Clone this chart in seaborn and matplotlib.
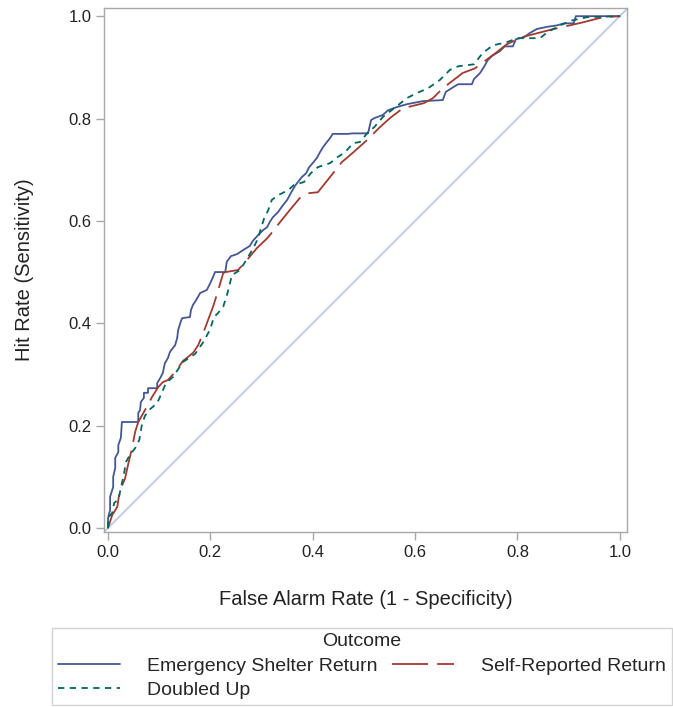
import pandas as pd
import matplotlib
matplotlib.use("Agg")
import matplotlib.pyplot as plt
import seaborn as sns

# ROC curves (false alarm rate, hit rate)
outcomes = ["Emergency Shelter Return", "Self-Reported Return", "Doubled Up"]

shelter_fpr = [0.000, 0.000, 0.004, 0.004, 0.010, 0.010, 0.014, 0.014, 0.020, 0.020,
               0.025, 0.027, 0.059, 0.059, 0.0625, 0.064, 0.070, 0.070, 0.078, 0.078,
               0.096, 0.096, 0.102, 0.107, 0.111, 0.117, 0.121, 0.127, 0.131, 0.135,
               0.137, 0.143, 0.145, 0.160, 0.162, 0.166, 0.172, 0.180, 0.193, 0.199,
               0.205, 0.209, 0.229, 0.232, 0.240, 0.252, 0.264, 0.277, 0.283, 0.293,
               0.303, 0.311, 0.316, 0.322, 0.332, 0.342, 0.350, 0.357, 0.365, 0.371,
               0.379, 0.387, 0.393, 0.400, 0.408, 0.414, 0.420, 0.426, 0.434, 0.439,
               0.469, 0.477, 0.508, 0.514, 0.521, 0.537, 0.547, 0.563, 0.584, 0.615,
               0.654, 0.660, 0.674, 0.684, 0.711, 0.715, 0.727, 0.734, 0.742, 0.750,
               0.766, 0.775, 0.791, 0.797, 0.813, 0.824, 0.838, 0.857, 0.877, 0.891,
               0.910, 0.914, 1.000]
shelter_tpr = [0.000, 0.020, 0.035, 0.061, 0.080, 0.100, 0.117, 0.137, 0.148, 0.162,
               0.176, 0.207, 0.207, 0.225, 0.230, 0.246, 0.254, 0.264, 0.264, 0.273,
               0.273, 0.283, 0.293, 0.303, 0.322, 0.332, 0.344, 0.352, 0.357, 0.371,
               0.387, 0.406, 0.410, 0.412, 0.426, 0.436, 0.445, 0.459, 0.465, 0.477,
               0.490, 0.500, 0.500, 0.520, 0.531, 0.535, 0.543, 0.551, 0.561, 0.572,
               0.582, 0.588, 0.598, 0.607, 0.617, 0.631, 0.641, 0.654, 0.668, 0.676,
               0.686, 0.693, 0.705, 0.713, 0.723, 0.734, 0.744, 0.752, 0.762, 0.770,
               0.770, 0.771, 0.771, 0.797, 0.801, 0.807, 0.816, 0.822, 0.828, 0.834,
               0.836, 0.852, 0.861, 0.867, 0.867, 0.877, 0.889, 0.900, 0.914, 0.922,
               0.932, 0.941, 0.941, 0.955, 0.959, 0.967, 0.975, 0.979, 0.982, 0.986,
               0.986, 1.000, 1.000]

self_fpr = [0.000, 0.008, 0.018, 0.021, 0.027, 0.033, 0.039, 0.045, 0.053, 0.059,
            0.072, 0.086, 0.098, 0.107, 0.117, 0.133, 0.146, 0.166, 0.176, 0.186,
            0.205, 0.213, 0.225, 0.230, 0.254, 0.271, 0.291, 0.311, 0.324, 0.338,
            0.355, 0.375, 0.391, 0.410, 0.434, 0.457, 0.477, 0.504, 0.531, 0.551,
            0.576, 0.617, 0.635, 0.654, 0.693, 0.717, 0.760, 0.779, 0.809, 0.863,
            0.889, 0.928, 0.967, 1.000]
self_tpr = [0.000, 0.025, 0.041, 0.061, 0.082, 0.096, 0.123, 0.148, 0.188, 0.207,
            0.230, 0.256, 0.275, 0.285, 0.289, 0.307, 0.326, 0.342, 0.357, 0.381,
            0.432, 0.457, 0.498, 0.500, 0.504, 0.523, 0.547, 0.566, 0.582, 0.600,
            0.621, 0.645, 0.654, 0.656, 0.686, 0.715, 0.732, 0.756, 0.783, 0.801,
            0.820, 0.830, 0.840, 0.859, 0.889, 0.898, 0.930, 0.945, 0.959, 0.973,
            0.979, 0.988, 0.998, 1.000]

doubled_fpr = [0.000, 0.000, 0.008, 0.012, 0.020, 0.025, 0.031, 0.035, 0.043, 0.053,
               0.061, 0.066, 0.072, 0.082, 0.096, 0.105, 0.113, 0.127, 0.146, 0.170,
               0.186, 0.199, 0.207, 0.215, 0.225, 0.234, 0.242, 0.258, 0.271, 0.285,
               0.293, 0.299, 0.305, 0.313, 0.320, 0.332, 0.352, 0.363, 0.383, 0.396,
               0.410, 0.434, 0.449, 0.463, 0.479, 0.492, 0.508, 0.520, 0.537, 0.564,
               0.584, 0.604, 0.625, 0.648, 0.668, 0.684, 0.715, 0.732, 0.752, 0.779,
               0.799, 0.844, 0.859, 0.883, 0.908, 0.936, 1.000]
doubled_tpr = [0.000, 0.020, 0.029, 0.049, 0.055, 0.078, 0.105, 0.129, 0.143, 0.156,
               0.172, 0.201, 0.219, 0.232, 0.244, 0.264, 0.283, 0.295, 0.324, 0.340,
               0.363, 0.387, 0.412, 0.420, 0.432, 0.461, 0.494, 0.504, 0.525, 0.549,
               0.566, 0.586, 0.605, 0.621, 0.641, 0.650, 0.660, 0.670, 0.676, 0.693,
               0.705, 0.713, 0.725, 0.734, 0.752, 0.754, 0.773, 0.783, 0.803, 0.824,
               0.840, 0.850, 0.859, 0.875, 0.895, 0.902, 0.906, 0.928, 0.943, 0.949,
               0.957, 0.957, 0.969, 0.982, 0.992, 0.998, 1.000]

x_ticks = [0.0, 0.2, 0.4, 0.6, 0.8, 1.0]
y_ticks = [0.0, 0.2, 0.4, 0.6, 0.8, 1.0]

# long-form table for seaborn
frames = []
for name, fpr, tpr in zip(outcomes,
                          [shelter_fpr, self_fpr, doubled_fpr],
                          [shelter_tpr, self_tpr, doubled_tpr]):
    frames.append(pd.DataFrame({"fpr": fpr, "tpr": tpr, "Outcome": name}))
df = pd.concat(frames, ignore_index=True)

sns.set_style("white")
plt.rcParams['font.family'] = ['Liberation Sans', 'DejaVu Sans']

GRID = "#A8A8A8"
palette = {outcomes[0]: "#445694", outcomes[1]: "#A23A2E", outcomes[2]: "#01665E"}
dashes = {outcomes[0]: "", outcomes[1]: (20, 5), outcomes[2]: (3.5, 3)}

fig = plt.figure(figsize=(6.73, 7.07), dpi=100)
ax = fig.add_axes([0.1545, 0.2475, 0.7771, 0.7412])

# chance line
ax.axline((0, 0), slope=1, color="#BCC9E4", lw=1.3, zorder=1)

sns.lineplot(data=df, x="fpr", y="tpr", hue="Outcome", style="Outcome",
             hue_order=outcomes, style_order=outcomes, palette=palette,
             dashes=dashes, sort=False, estimator=None, lw=1.3, ax=ax, zorder=3)

ax.set_xlim(-0.008, 1.014)
ax.set_ylim(-0.008, 1.016)
ax.set_xticks(x_ticks)
ax.set_yticks(y_ticks)
ax.set_xticklabels([f"{v:.1f}" for v in x_ticks])
ax.set_yticklabels([f"{v:.1f}" for v in y_ticks])
ax.tick_params(axis="both", direction="out", length=6, width=1, color=GRID,
               labelsize=12, labelcolor="#222222", pad=3,
               bottom=True, left=True, top=False, right=False)
for sp in ax.spines.values():
    sp.set_color(GRID)
    sp.set_linewidth(1)
ax.set_xlabel("False Alarm Rate (1 - Specificity)", fontsize=14.5, color="#222222", labelpad=22)
ax.set_ylabel("Hit Rate (Sensitivity)", fontsize=14.5, color="#222222", labelpad=25)

# legend below the plot, row-major order
leg = ax.get_legend()
handles = {t.get_text(): h for t, h in zip(leg.get_texts(), leg.legend_handles)}
leg.remove()
order = [outcomes[0], outcomes[2], outcomes[1]]
fig_leg = fig.legend([handles[k] for k in order], order, title="Outcome", ncol=2,
                     loc="lower left", mode="expand",
                     bbox_to_anchor=(52 / 673, 2 / 707, 620 / 673, 77 / 707),
                     fontsize=14, title_fontsize=14, frameon=True, fancybox=False,
                     edgecolor="#C8C8C8", handlelength=3.2, handletextpad=1.4,
                     borderpad=0.3, labelspacing=0.35, columnspacing=1.0,
                     borderaxespad=0)
fig_leg.get_frame().set_linewidth(1)

fig.savefig("out.png", dpi=100)
